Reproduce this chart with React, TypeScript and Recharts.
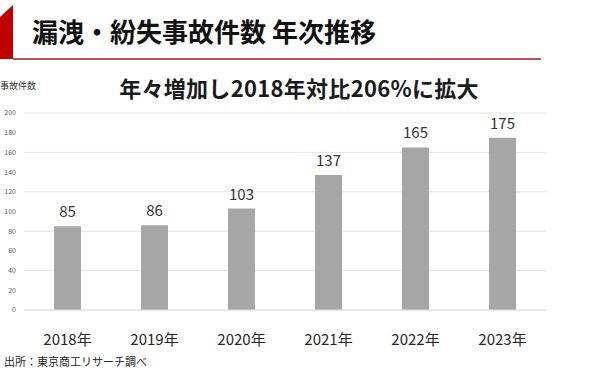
import { BarChart, Bar, XAxis, YAxis, CartesianGrid, LabelList } from 'recharts';

const years = ['2018年', '2019年', '2020年', '2021年', '2022年', '2023年'];
const incidents = [85, 86, 103, 137, 165, 175];
const yTicks = [0, 20, 40, 60, 80, 100, 120, 140, 160, 180, 200];

const data = years.map((year, i) => ({ year, count: incidents[i] }));

const FONT = '"Noto Sans CJK JP", "Noto Sans", sans-serif';

export default function App() {
  return (
    <div style={{ position: 'fixed', left: 0, top: 0, width: 590, height: 373, background: '#fff', fontFamily: FONT, overflow: 'hidden' }}>
      {/* header */}
      <div style={{ position: 'absolute', left: 0, top: 5, width: 13, height: 54, background: '#c00000', clipPath: 'polygon(0 12px, 13px 0, 13px 100%, 0 100%)' }} />
      <div style={{ position: 'absolute', left: 13, top: 58, width: 528, height: 2, background: '#c0504d' }} />
      <div style={{ position: 'absolute', left: 32, top: 11, fontSize: 26, fontWeight: 700, color: '#111', whiteSpace: 'nowrap', lineHeight: '40px' }}>
        漏洩・紛失事故件数 年次推移
      </div>
      <div style={{ position: 'absolute', left: 0, width: 598, top: 72, textAlign: 'center', fontSize: 22, fontWeight: 700, color: '#1a1a1a', whiteSpace: 'nowrap', lineHeight: '30px', letterSpacing: 0.3 }}>
        年々増加し2018年対比206%に拡大
      </div>
      <div style={{ position: 'absolute', left: 0, top: 79, fontSize: 9, color: '#333', whiteSpace: 'nowrap', lineHeight: '14px' }}>
        事故件数
      </div>
      <div style={{ position: 'absolute', left: 4, top: 353, fontSize: 11, color: '#222', whiteSpace: 'nowrap', lineHeight: '16px' }}>
        出所：東京商工リサーチ調べ
      </div>

      <BarChart
        width={590}
        height={373}
        data={data}
        margin={{ top: 113, right: 44, bottom: 0, left: 0 }}
        style={{ position: 'absolute', left: 0, top: 0, fontFamily: FONT }}
      >
        <CartesianGrid vertical={false} stroke="#e4e4e4" />
        <XAxis
          dataKey="year"
          height={63}
          tickLine={false}
          axisLine={{ stroke: '#e0e0e0' }}
          tickMargin={18}
          tick={{ fontSize: 15, fill: '#262626' }}
        />
        <YAxis
          width={24}
          domain={[0, 200]}
          ticks={yTicks}
          tickLine={false}
          axisLine={false}
          tick={{ fontSize: 7, fill: '#595959' }}
        />
        <Bar dataKey="count" fill="#a6a6a6" barSize={27} isAnimationActive={false}>
          <LabelList dataKey="count" position="top" offset={9} style={{ fontSize: 15, fill: '#333' }} />
        </Bar>
      </BarChart>
    </div>
  );
}
